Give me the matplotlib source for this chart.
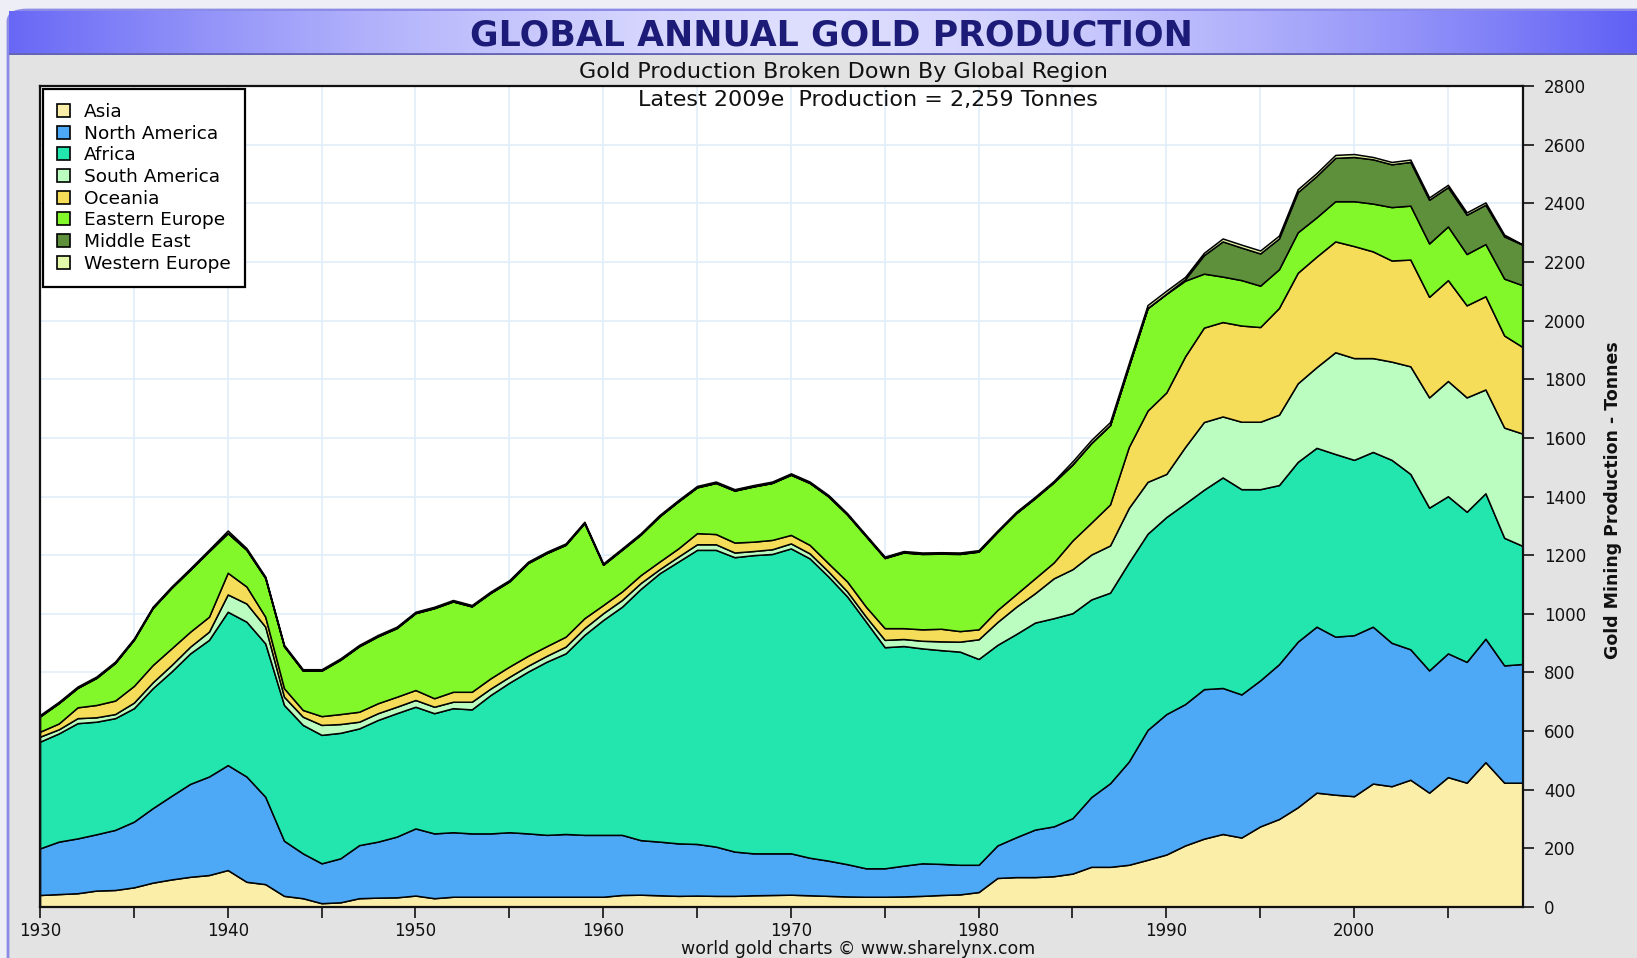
import numpy as np
import matplotlib
matplotlib.use('Agg')
import matplotlib.pyplot as plt
from matplotlib.patches import FancyBboxPatch, Patch
from matplotlib.ticker import FixedLocator, MultipleLocator

# ---------------- data (tonnes) ----------------
years = list(range(1930, 2010))

regions = ["Asia", "North America", "Africa", "South America", "Oceania",
           "Eastern Europe", "Middle East", "Western Europe"]

asia = [41, 44, 47, 56, 58, 67, 83, 94, 103, 109,
        126, 86, 78, 38, 30, 13, 16, 30, 32, 33,
        39, 30, 35, 35, 35, 35, 35, 35, 35, 35,
        35, 41, 42, 40, 38, 39, 38, 38, 40, 41,
        42, 40, 38, 36, 35, 35, 36, 38, 41, 43,
        51, 99, 102, 102, 105, 114, 137, 137, 144, 161,
        179, 210, 233, 249, 237, 275, 300, 340, 390, 383,
        378, 421, 412, 434, 390, 443, 424, 494, 424, 424]

north_america = [159, 179, 187, 192, 205, 224, 254, 285, 317, 336,
                 358, 359, 298, 188, 153, 136, 150, 181, 191, 207,
                 229, 221, 220, 216, 216, 220, 216, 211, 214, 211,
                 211, 205, 186, 183, 179, 176, 168, 151, 143, 142,
                 141, 128, 120, 110, 97, 97, 105, 111, 106, 101,
                 93, 111, 136, 162, 170, 189, 238, 285, 352, 443,
                 479, 482, 510, 498, 488, 498, 528, 565, 566, 539,
                 549, 535, 489, 445, 417, 422, 412, 421, 400, 405]

africa = [364, 369, 393, 384, 381, 387, 409, 424, 445, 466,
          523, 528, 523, 463, 438, 438, 428, 398, 415, 421,
          415, 410, 423, 423, 472, 510, 552, 591, 616, 682,
          733, 778, 857, 915, 961, 1003, 1012, 1004, 1017, 1021,
          1040, 1021, 969, 913, 841, 754, 749, 733, 729, 727,
          702, 684, 693, 706, 710, 699, 674, 650, 679, 669,
          672, 684, 680, 718, 700, 652, 611, 613, 610, 623,
          598, 596, 624, 598, 555, 536, 512, 496, 435, 402]

south_america = [17, 14, 17, 15, 14, 19, 20, 22, 23, 28,
                 59, 62, 57, 28, 28, 34, 30, 23, 23, 22,
                 23, 22, 22, 26, 22, 20, 20, 20, 23, 23,
                 23, 23, 20, 14, 17, 19, 19, 16, 14, 16,
                 17, 17, 17, 17, 17, 25, 24, 26, 30, 34,
                 67, 78, 93, 100, 136, 150, 153, 161, 186, 177,
                 147, 193, 231, 208, 230, 230, 240, 268, 275, 347,
                 347, 320, 335, 367, 376, 393, 390, 354, 376, 383]

oceania = [17, 20, 37, 42, 46, 57, 59, 57, 51, 51,
           74, 58, 34, 29, 23, 30, 34, 34, 34, 34,
           34, 29, 34, 34, 35, 35, 34, 33, 34, 34,
           28, 29, 27, 26, 28, 38, 35, 34, 32, 32,
           29, 29, 28, 34, 34, 40, 37, 39, 43, 36,
           34, 41, 43, 51, 54, 98, 109, 140, 208, 243,
           278, 309, 322, 322, 328, 323, 364, 377, 377, 378,
           382, 364, 345, 364, 343, 344, 314, 318, 314, 295]

eastern_europe = [52, 69, 66, 92, 128, 157, 194, 206, 211, 223,
                  135, 125, 132, 143, 134, 155, 185, 223, 228, 234,
                  262, 307, 308, 291, 291, 290, 316, 317, 313, 324,
                  137, 142, 138, 154, 160, 156, 174, 177, 188, 194,
                  205, 211, 228, 228, 240, 239, 258, 257, 256, 263,
                  265, 266, 276, 273, 273, 259, 271, 270, 275, 349,
                  336, 258, 184, 155, 155, 141, 132, 138, 134, 137,
                  153, 163, 182, 184, 182, 183, 175, 178, 194, 211]

middle_east = [1, 1, 1, 1, 1, 1, 1, 1, 1, 1,
               1, 1, 1, 1, 1, 1, 1, 1, 1, 1,
               1, 1, 1, 1, 1, 1, 1, 1, 1, 1,
               1, 1, 1, 1, 1, 1, 1, 1, 1, 1,
               1, 1, 1, 1, 1, 1, 1, 1, 1, 1,
               1, 1, 1, 1, 1, 1, 1, 1, 1, 1,
               1, 5, 63, 120, 111, 110, 105, 137, 141, 148,
               151, 151, 146, 149, 149, 134, 134, 134, 144, 138]

western_europe = [4, 4, 4, 4, 4, 4, 4, 4, 4, 5,
                  8, 5, 4, 4, 4, 4, 4, 4, 4, 4,
                  4, 4, 4, 4, 4, 4, 4, 4, 4, 4,
                  4, 4, 4, 4, 4, 4, 4, 4, 4, 4,
                  4, 4, 4, 4, 4, 4, 4, 4, 4, 4,
                  4, 4, 4, 4, 4, 10, 10, 10, 10, 10,
                  10, 8, 8, 10, 10, 10, 10, 10, 10, 10,
                  10, 8, 8, 8, 8, 8, 8, 8, 6, 1]

colors = ["#FAEEA9", "#4DA9F6", "#23E6AE", "#BBFDC0", "#F5DD5A",
          "#82F82A", "#5E8F3A", "#E4FAAA"]

x_tick_years = [1930, 1940, 1950, 1960, 1970, 1980, 1990, 2000]

title = "GLOBAL ANNUAL GOLD PRODUCTION"
subtitle = "Gold Production Broken Down By Global Region"
note = "Latest 2009e  Production = 2,259 Tonnes"
footer = "world gold charts \u00a9 www.sharelynx.com"
ylabel = "Gold Mining Production - Tonnes"

# ---------------- figure ----------------
W, H = 1637, 958
fig = plt.figure(figsize=(W / 100, H / 100), dpi=100)
fig.patch.set_facecolor("#eeeef6")

# background panel (drawn behind everything)
panel = FancyBboxPatch((8 / W, -0.05), 1.2, (H - 10) / H + 0.05,
                       boxstyle="round,pad=0,rounding_size=0.012",
                       transform=fig.transFigure, facecolor="#e3e3e3",
                       edgecolor="#8c8ce6", linewidth=2, zorder=-10)
fig.patches.append(panel)

# title bar with gradient
tb = fig.add_axes([9 / W, 1 - 55 / H, 1 - 9 / W, 44 / H], zorder=1)
xg = np.linspace(0, 1, 600)
t = np.clip(np.abs(xg - 0.49) / 0.51, 0, 1) ** 1.6
edge = np.array([96, 96, 245]) / 255
centre = np.array([222, 222, 255]) / 255
grad = centre[None, :] * (1 - t[:, None]) + edge[None, :] * t[:, None]
tb.imshow(grad[None, :, :], aspect="auto", extent=[0, 1, 0, 1])
tb.axhline(0.02, color="#6464b4", lw=2)
tb.set_xlim(0, 1)
tb.set_ylim(0, 1)
tb.axis("off")

fig.text(831 / W, 1 - 35 / H, title, ha="center", va="center",
         fontsize=25, fontweight="bold", color="#1c1c78", zorder=3)
fig.text(843 / W, 1 - 72 / H, subtitle, ha="center", va="center",
         fontsize=16, color="#111111")
fig.text(858 / W, 1 - 949 / H, footer, ha="center", va="center",
         fontsize=12.5, color="#111111")

# ---------------- main axes ----------------
left, right, top, bottom = 40, 1523, 86, 907
ax = fig.add_axes([left / W, 1 - bottom / H, (right - left) / W, (bottom - top) / H], zorder=2)
ax.set_facecolor("white")

series = [asia, north_america, africa, south_america, oceania,
          eastern_europe, middle_east, western_europe]
ax.stackplot(years, *series, colors=colors, edgecolor="black",
             linewidth=1.1, zorder=3)

ax.set_xlim(1930, 2009)
ax.set_ylim(0, 2800)

ax.xaxis.set_major_locator(FixedLocator(x_tick_years))
ax.xaxis.set_minor_locator(MultipleLocator(5))
ax.yaxis.set_major_locator(MultipleLocator(200))
ax.yaxis.tick_right()
ax.yaxis.set_label_position("right")
ax.tick_params(axis="both", which="both", direction="out", length=8,
               width=1.2, labelsize=12, color="#111111", labelcolor="#111111")
ax.tick_params(axis="x", pad=3)
ax.tick_params(axis="y", pad=7, left=False, labelleft=False, right=True, labelright=True)

ax.grid(True, which="both", color="#e2eef9", linewidth=1.2, zorder=0)
ax.set_axisbelow(True)
for s in ax.spines.values():
    s.set_linewidth(1.6)
    s.set_color("#111111")
    s.set_zorder(5)

ax.set_ylabel(ylabel, family=["Liberation Sans Narrow", "DejaVu Sans"],
              fontweight="bold", fontsize=12.5, color="#111111")
ax.yaxis.set_label_coords((1604 - left) / (right - left), (bottom - 500) / (bottom - top))

ax.text((868 - left) / (right - left), (bottom - 100) / (bottom - top), note,
        transform=ax.transAxes, ha="center", va="center", fontsize=16,
        color="#111111", zorder=6)

handles = [Patch(facecolor=c, edgecolor="black", linewidth=1.2) for c in colors]
leg = ax.legend(handles, regions, loc="upper left",
                bbox_to_anchor=(43 / W, 1 - 89 / H), bbox_transform=fig.transFigure,
                borderaxespad=0, fancybox=False, framealpha=1, edgecolor="black",
                fontsize=13.3, handlelength=0.72, handleheight=0.72,
                handletextpad=0.75, labelspacing=0.2, borderpad=0.75)
leg.get_frame().set_linewidth(1.6)
leg.set_zorder(7)

fig.savefig("out.png", dpi=100, facecolor=fig.get_facecolor())
